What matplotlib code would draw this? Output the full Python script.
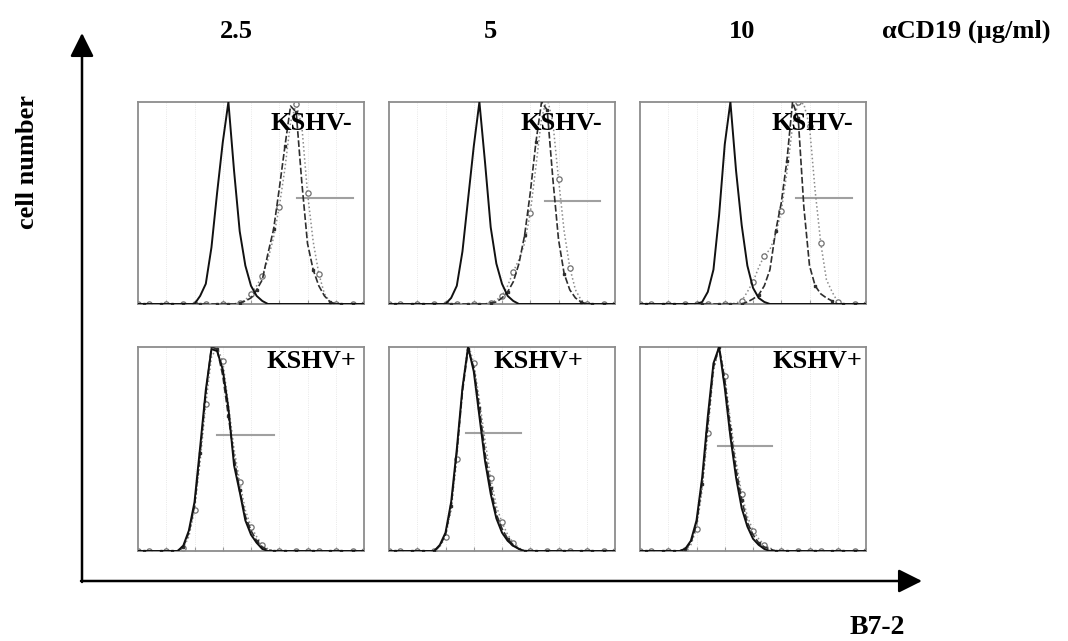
import matplotlib
matplotlib.use("Agg")
import matplotlib.pyplot as plt

plt.rcParams['font.family'] = ['Liberation Serif', 'DejaVu Serif']

# B7-2 fluorescence channel (panel width = 100), 2.5 steps
channel = [i * 2.5 for i in range(41)]

doses = ["2.5", "5", "10"]
groups = ["KSHV-", "KSHV+"]

# KSHV- cells, aCD19 2.5 / 5 / 10 ug/ml
neg25_ctrl = [0, 0, 0, 0, 0, 0, 0, 0, 0, 0,
              0, 4, 10, 28, 55, 80, 100, 66, 36, 19,
              9, 4, 1.5, 0, 0, 0, 0, 0, 0, 0,
              0, 0, 0, 0, 0, 0, 0, 0, 0, 0, 0]
neg25_dash = [0, 0, 0, 0, 0, 0, 0, 0, 0, 0,
              0, 0, 0, 0, 0, 0, 0, 0, 0.5, 1.5,
              3, 7, 12, 25, 37, 57, 78, 98, 95, 60,
              30, 17, 9, 4, 1, 0, 0, 0, 0, 0, 0]
neg25_dot = [0, 0, 0, 0, 0, 0, 0, 0, 0, 0,
             0, 0, 0, 0, 0, 0, 0, 0, 0.5, 2,
             5, 9, 14, 22, 33, 48, 67, 90, 99, 88,
             55, 31, 15, 5, 1, 0, 0, 0, 0, 0, 0]

neg5_ctrl = [0, 0, 0, 0, 0, 0, 0, 0, 0, 0,
             0, 3, 9, 26, 52, 78, 100, 70, 38, 20,
             10, 4, 1.5, 0, 0, 0, 0, 0, 0, 0,
             0, 0, 0, 0, 0, 0, 0, 0, 0, 0, 0]
neg5_dash = [0, 0, 0, 0, 0, 0, 0, 0, 0, 0,
             0, 0, 0, 0, 0, 0, 0, 0, 0.5, 1,
             3, 6, 11, 20, 34, 55, 80, 100, 96, 62,
             32, 15, 7, 3, 1, 0, 0, 0, 0, 0, 0]
neg5_dot = [0, 0, 0, 0, 0, 0, 0, 0, 0, 0,
            0, 0, 0, 0, 0, 0, 0, 0, 0.5, 2,
            4, 9, 16, 22, 30, 45, 68, 92, 102, 90,
            62, 36, 18, 7, 2, 0, 0, 0, 0, 0, 0]

neg10_ctrl = [0, 0, 0, 0, 0, 0, 0, 0, 0, 0,
              0, 1, 6, 17, 44, 79, 100, 66, 39, 19,
              8, 3, 1, 0, 0, 0, 0, 0, 0, 0,
              0, 0, 0, 0, 0, 0, 0, 0, 0, 0, 0]
neg10_dash = [0, 0, 0, 0, 0, 0, 0, 0, 0, 0,
              0, 0, 0, 0, 0, 0, 0, 0, 0, 1,
              2.5, 4.5, 9, 17, 36, 50, 71, 100, 92, 48,
              19, 9, 5, 3, 1.5, 0, 0, 0, 0, 0, 0]
neg10_dot = [0, 0, 0, 0, 0, 0, 0, 0, 0, 0,
             0, 0, 0, 0, 0, 0, 0, 0.5, 1.5, 6,
             11, 18, 24, 27, 34, 46, 65, 88, 100, 99,
             88, 56, 30, 12, 6, 1, 0, 0, 0, 0, 0]

# KSHV+ cells
pos25_ctrl = [0, 0, 0, 0, 0, 0, 0, 0, 2.5, 10,
              24, 51, 79, 99, 98, 89, 70, 42, 29, 15,
              8, 4, 1, 0, 0, 0, 0, 0, 0, 0,
              0, 0, 0, 0, 0, 0, 0, 0, 0, 0, 0]
pos25_dash = [0, 0, 0, 0, 0, 0, 0, 0, 2, 9,
              22, 48, 77, 100, 99, 86, 66, 46, 30, 17,
              10, 5, 2, 0.5, 0, 0, 0, 0, 0, 0,
              0, 0, 0, 0, 0, 0, 0, 0, 0, 0, 0]
pos25_dot = [0, 0, 0, 0, 0, 0, 0, 0, 1.5, 7,
             20, 44, 72, 95, 100, 93, 72, 50, 34, 20,
             12, 7, 3, 1, 0, 0, 0, 0, 0, 0,
             0, 0, 0, 0, 0, 0, 0, 0, 0, 0, 0]

pos5_ctrl = [0, 0, 0, 0, 0, 0, 0, 0, 0, 3,
             9, 24, 50, 80, 100, 88, 66, 44, 28, 16,
             9, 5, 2.5, 1, 0, 0, 0, 0, 0, 0,
             0, 0, 0, 0, 0, 0, 0, 0, 0, 0, 0]
pos5_dash = [0, 0, 0, 0, 0, 0, 0, 0, 0, 2.5,
             8, 22, 48, 78, 99, 90, 70, 48, 31, 18,
             11, 6, 3, 1, 0, 0, 0, 0, 0, 0,
             0, 0, 0, 0, 0, 0, 0, 0, 0, 0, 0]
pos5_dot = [0, 0, 0, 0, 0, 0, 0, 0, 0, 2,
            7, 20, 45, 80, 102, 92, 74, 54, 36, 22,
            14, 8, 4, 1.5, 0, 0, 0, 0, 0, 0,
            0, 0, 0, 0, 0, 0, 0, 0, 0, 0, 0]

pos10_ctrl = [0, 0, 0, 0, 0, 0, 0, 0, 1, 5,
              15, 36, 66, 92, 100, 80, 56, 36, 21, 12,
              6, 3, 1, 0, 0, 0, 0, 0, 0, 0,
              0, 0, 0, 0, 0, 0, 0, 0, 0, 0, 0]
pos10_dash = [0, 0, 0, 0, 0, 0, 0, 0, 1, 4,
              13, 33, 62, 90, 100, 84, 60, 40, 25, 14,
              8, 4, 2, 1, 0, 0, 0, 0, 0, 0,
              0, 0, 0, 0, 0, 0, 0, 0, 0, 0, 0]
pos10_dot = [0, 0, 0, 0, 0, 0, 0, 0, 0.5, 3,
             11, 30, 58, 88, 100, 86, 64, 44, 28, 17,
             10, 6, 3, 1.5, 0, 0, 0, 0, 0, 0,
             0, 0, 0, 0, 0, 0, 0, 0, 0, 0, 0]

# marker (gate) bars: start, end, height
gate_neg_start = [70.2, 69.0, 69.2]
gate_neg_end = [95.0, 93.4, 94.0]
gate_neg_level = [52.5, 51.0, 52.5]
gate_pos_start = [35.0, 34.0, 34.5]
gate_pos_end = [60.1, 58.4, 58.4]
gate_pos_level = [56.7, 58.0, 51.7]

ctrl = [[neg25_ctrl, neg5_ctrl, neg10_ctrl], [pos25_ctrl, pos5_ctrl, pos10_ctrl]]
dash = [[neg25_dash, neg5_dash, neg10_dash], [pos25_dash, pos5_dash, pos10_dash]]
dot = [[neg25_dot, neg5_dot, neg10_dot], [pos25_dot, pos5_dot, pos10_dot]]
gates = [(gate_neg_start, gate_neg_end, gate_neg_level),
         (gate_pos_start, gate_pos_end, gate_pos_level)]

# circles roughly every 6.25 channel units, small squares offset between them
dot_marks = [round(k * 2.5) for k in range(17)]
dash_marks = [round(k * 2.5 + 1) for k in range(16)]

W, H = 1068, 641
fig = plt.figure(figsize=(W / 100, H / 100), dpi=100)

# overlay in pixel coordinates for the big axes arrows and labels
bg = fig.add_axes([0, 0, 1, 1])
bg.set_xlim(0, W)
bg.set_ylim(H, 0)
bg.axis('off')

arrow = dict(arrowstyle='-|>,head_length=0.72,head_width=0.36', mutation_scale=20,
             lw=1.8, color='black', shrinkA=0, shrinkB=0)
bg.annotate('', xy=(82, 33), xytext=(82, 582), arrowprops=arrow)
bg.annotate('', xy=(922, 581), xytext=(81, 581), arrowprops=arrow)

bold = dict(fontsize=19, fontweight='bold')
col_x = [236, 490, 742]
for d, cx in zip(doses, col_x):
    bg.text(cx, 38, d, ha='center', va='baseline', **bold)
bg.text(882, 38, '\u03b1CD19 (\u00b5g/ml)', ha='left', va='baseline', **bold)
bg.text(27, 162, 'cell number', rotation=90, ha='center', va='center', **bold)
bg.text(877, 634, 'B7-2', ha='center', va='baseline', fontsize=20, fontweight='bold')

col_left = [138, 389, 640]
row_top = [102, 347]
row_h = [202, 204]
label_x = [[0.947, 0.942, 0.942], [0.968, 0.858, 0.982]]
label_y = [0.861, 0.895]

for r in range(2):
    for c in range(3):
        left = col_left[c]
        bottom = row_top[r] + row_h[r]
        ax = fig.add_axes([left / W, 1 - bottom / H, 226 / W, row_h[r] / H])
        ax.set_xlim(0, 100)
        ax.set_ylim(0, 100)
        for gx in [12.5, 25, 37.5, 50, 62.5, 75, 87.5]:
            ax.axvline(gx, color='#e2e2e2', lw=0.6, ls=':', zorder=0)
        ax.plot(channel, dot[r][c], color='#8a8a8a', lw=1.1, ls=':',
                marker='o', ms=3.8, mfc='white', mec='#707070', mew=0.9,
                markevery=dot_marks, zorder=2)
        ax.plot(channel, dash[r][c], color='#2e2e2e', lw=1.2, ls=(0, (4, 1.5)),
                marker='s', ms=2.0, markevery=dash_marks, zorder=3)
        ax.plot(channel, ctrl[r][c], color='#111111', lw=1.4, zorder=4)
        gs, ge, gl = gates[r]
        ax.plot([gs[c], ge[c]], [gl[c], gl[c]], color='#a0a0a0', lw=1.5, zorder=1)
        ax.text(label_x[r][c], label_y[r], groups[r], transform=ax.transAxes,
                ha='right', va='baseline', zorder=6, **bold)
        ax.set_xticks([12.5, 25, 37.5, 50, 62.5, 75, 87.5])
        ax.set_yticks([])
        ax.tick_params(axis='x', direction='in', length=3, color='#999999',
                       labelbottom=False)
        for s in ax.spines.values():
            s.set_color('#8c8c8c')
            s.set_linewidth(1.3)

fig.savefig('out.png', dpi=100)
